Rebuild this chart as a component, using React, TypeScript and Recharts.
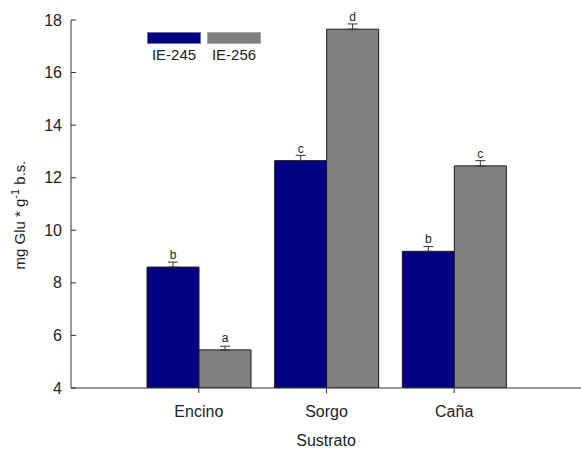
import React from 'react';
import { BarChart, Bar, XAxis, YAxis, ErrorBar, LabelList, Legend, Label } from 'recharts';

const categories = ['Encino', 'Sorgo', 'Caña'];
const ie245 = [8.6, 12.65, 9.2];
const ie256 = [5.45, 17.65, 12.45];
const err245 = [0.19, 0.2, 0.18];
const err256 = [0.14, 0.2, 0.2];
const letters245 = ['b', 'c', 'b'];
const letters256 = ['a', 'd', 'c'];
const yTicks = [4, 6, 8, 10, 12, 14, 16, 18];

const data = categories.map((name, i) => ({
  name,
  ie245: ie245[i],
  ie256: ie256[i],
  // only the upper whisker is drawn in the original
  e245: [0, err245[i]],
  e256: [0, err256[i]],
  l245: letters245[i],
  l256: letters256[i],
}));

const FONT = '"Liberation Sans", Arial, sans-serif';
const AXIS = '#333';

const YTick = ({ x, y, payload }: any) => (
  <g>
    <line x1={x + 9} x2={x + 14} y1={y} y2={y} stroke={AXIS} strokeWidth={1} />
    <text x={x} y={y} dy="0.35em" textAnchor="end" fontSize={16} fontFamily={FONT} fill="#222">
      {payload.value}
    </text>
  </g>
);

const Letter = ({ x, y, width, value }: any) => (
  <text x={x + width / 2} y={y - 8} textAnchor="middle" fontSize={12} fontFamily={FONT} fill="#222">
    {value}
  </text>
);

const YLabel = ({ viewBox }: any) => {
  const cx = viewBox.x + 20;
  const cy = viewBox.y + viewBox.height / 2 + 11;
  return (
    <text x={cx} y={cy} transform={`rotate(-90, ${cx}, ${cy})`} textAnchor="middle" dy="0.35em"
      fontSize={15} fontFamily={FONT} fill="#222">
      mg Glu * g<tspan dy={-6} fontSize={11}>-1</tspan><tspan dy={6}> b.s.</tspan>
    </text>
  );
};

const LegendBox = ({ payload }: any) => (
  <div style={{ display: 'flex', gap: 6, fontFamily: FONT }}>
    {(payload || []).map((p: any) => (
      <div key={p.value} style={{ display: 'flex', flexDirection: 'column', alignItems: 'center' }}>
        <div style={{
          width: 52, height: 10, background: p.color,
          border: `1px solid ${p.value === 'IE-245' ? '#5a6fb5' : '#a8a8a8'}`,
        }} />
        <span style={{ fontSize: 15, lineHeight: '17px', marginTop: 2, color: '#222' }}>{p.value}</span>
      </div>
    ))}
  </div>
);

export default function App() {
  return (
    <div style={{ position: 'absolute', left: 0, top: 0, background: '#fff' }}>
      <BarChart width={581} height={450} data={data} barGap={0}
        margin={{ top: 20, right: 0, left: 0, bottom: 0 }}>
        <XAxis dataKey="name" height={62} padding={{ left: 64, right: 63 }}
          stroke={AXIS} tickSize={5} tickMargin={13}
          tick={{ fontSize: 16, fontFamily: FONT, fill: '#222' }}>
          <Label value="Sustrato" position="insideBottom" offset={4}
            style={{ fontSize: 16, fontFamily: FONT, fill: '#222' }} />
        </XAxis>
        <YAxis width={71} domain={[4, 18]} ticks={yTicks} allowDataOverflow
          stroke={AXIS} tickLine={false} tickSize={0} tickMargin={9} tick={<YTick />}
          label={<YLabel />} />
        <Legend verticalAlign="middle" align="center" layout="horizontal"
          wrapperStyle={{ top: 32, left: 147, width: 'auto' }} content={<LegendBox />} />
        <Bar dataKey="ie245" name="IE-245" fill="#000080" stroke="#1a1a1a" strokeWidth={1}
          barSize={52} isAnimationActive={false}>
          <ErrorBar dataKey="e245" width={5} stroke={AXIS} strokeWidth={1} />
          <LabelList dataKey="l245" content={<Letter />} />
        </Bar>
        <Bar dataKey="ie256" name="IE-256" fill="#808080" stroke="#1a1a1a" strokeWidth={1}
          barSize={52} isAnimationActive={false}>
          <ErrorBar dataKey="e256" width={5} stroke={AXIS} strokeWidth={1} />
          <LabelList dataKey="l256" content={<Letter />} />
        </Bar>
      </BarChart>
    </div>
  );
}
